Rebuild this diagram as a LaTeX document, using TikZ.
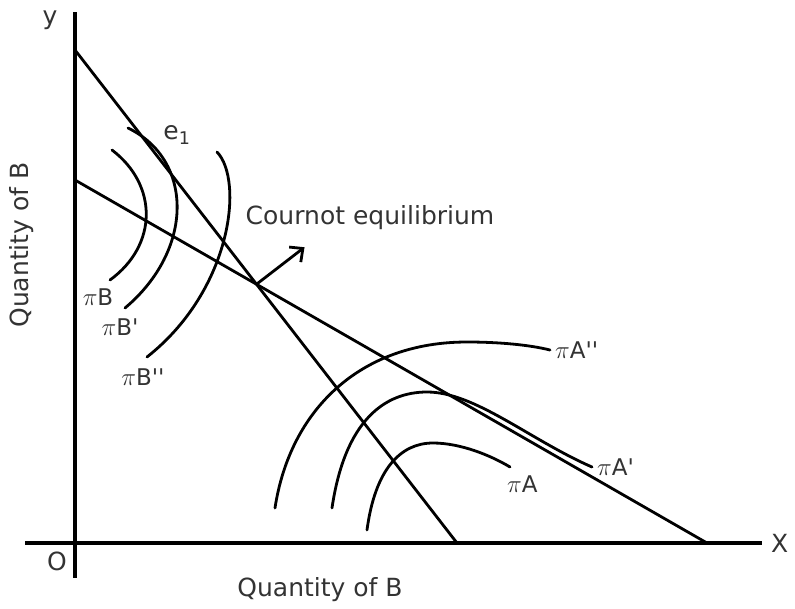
\documentclass[tikz,border=0pt]{standalone}
\usepackage{fontspec}
\setmainfont{DejaVu Sans}
\usepackage{tikz}
\usetikzlibrary{arrows.meta, positioning}
\tikzstyle{axis}   = [line width=3.4pt]
\tikzstyle{curve}  = [line width=2.8pt, line cap=round]
\tikzstyle{lbl}    = [text=black!80, inner sep=1pt, font=\fontsize{23}{26}\selectfont]
\tikzstyle{biglbl} = [text=black!80, inner sep=1pt, font=\fontsize{25}{28}\selectfont]
\tikzstyle{arrow}  = [line width=2.8pt, -{Straight Barb[length=10pt, width=19pt]}]
\newcommand{\tck}{\textquotesingle}
\begin{document}
\begin{tikzpicture}[x=1pt, y=-1pt]
\useasboundingbox (0,0) rectangle (795,608);
% axes
\coordinate (ytop) at (75,12);
\coordinate (ybot) at (75,578);
\coordinate (xl) at (25,543);
\coordinate (xr) at (762,543);
\draw [axis] (ytop) -- (ybot);
\draw [axis] (xl) -- (xr);
\node (ylab) [biglbl] at (50,20) {y};
\node (xlab) [biglbl, right=8pt of xr] {X};
\node (olab) [biglbl] at (57,561) {O};
\node (xname) [biglbl] at (320,590) {Quantity of B};
\node (yname) [biglbl, rotate=90] at (22,245) {Quantity of B};

% reaction lines
\coordinate (ra1) at (75,50);
\coordinate (ra2) at (457,543);
\coordinate (rb1) at (75,180);
\coordinate (rb2) at (707,543);
\draw [curve] (ra1) -- (ra2);
\draw [curve] (rb1) -- (rb2);
\coordinate (eq) at (intersection of ra1--ra2 and rb1--rb2);
\draw [arrow] (eq) -- ++(48,-37);
\node (cournot) [biglbl] at (370,218) {Cournot equilibrium};
\node (e1) [biglbl] at (177,135) {e\textsubscript{1}};

% isoprofit curves of B
\draw [curve] (112,150) .. controls (158,185) and (158,245) .. (110,280) coordinate (b1e);
\draw [curve] (128,128) .. controls (194,160) and (194,250) .. (125,308) coordinate (b2e);
\draw [curve] (217,152) .. controls (244,180) and (232,290) .. (147,357) coordinate (b3e);
\node (pB1) [lbl] at (98,297) {$\pi$B};
\node (pB2) [lbl] at (120,327) {$\pi$B\tck};
\node (pB3) [lbl] at (143,377) {$\pi$B\tck\tck};

% isoprofit curves of A
\draw [curve] (367,530) .. controls (375,470) and (400,443) .. (433,443)
              .. controls (460,443) and (490,455) .. (510,467) coordinate (a1e);
\draw [curve] (332,508) .. controls (345,420) and (385,392) .. (427,392)
              .. controls (475,392) and (530,440) .. (592,467) coordinate (a2e);
\draw [curve] (275,508) .. controls (290,410) and (360,342) .. (467,342)
              .. controls (500,342) and (530,345) .. (550,350) coordinate (a3e);
\node (pA1) [lbl, below right=8pt and -4pt of a1e] {$\pi$A};
\node (pA2) [lbl, right=4pt of a2e] {$\pi$A\tck};
\node (pA3) [lbl, right=4pt of a3e] {$\pi$A\tck\tck};
\end{tikzpicture}
\end{document}
